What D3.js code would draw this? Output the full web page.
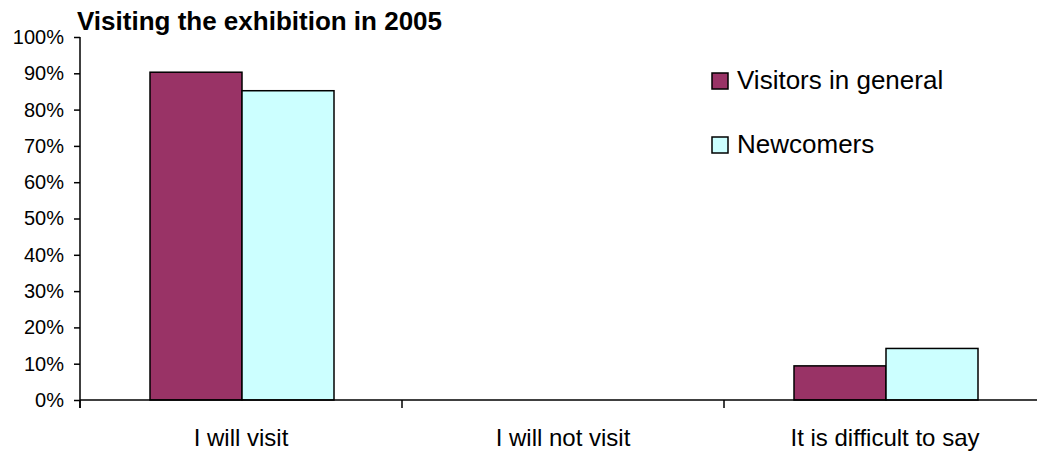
<!DOCTYPE html>
<html>
<head>
<meta charset="utf-8">
<script src="https://cdn.jsdelivr.net/npm/d3@7"></script>
<style>
  body { margin: 0; background: #fff; }
  svg text { font-family: "Liberation Sans", Arial, sans-serif; fill: #000; }
</style>
</head>
<body>
<div id="chart"></div>
<script>
// chart data
const categories = ["I will visit", "I will not visit", "It is difficult to say"];
const seriesNames = ["Visitors in general", "Newcomers"];
const visitorsGeneral = [90.3, 0, 9.4];
const newcomers = [85.2, null, 14.2];
const yTicks = [0, 10, 20, 30, 40, 50, 60, 70, 80, 90, 100];
const colors = ["#993366", "#CCFFFF"];

const width = 1037, height = 453;
const plotLeft = 80, plotTop = 37, plotBottom = 400, bandW = 322;

const svg = d3.select("#chart").append("svg")
  .attr("width", width).attr("height", height);

const y = d3.scaleLinear().domain([0, 100]).range([plotBottom, plotTop]);
const x = d3.scaleBand().domain(categories).range([plotLeft, plotLeft + bandW * categories.length]).padding(0);
const xInner = d3.scaleBand().domain(seriesNames).range([70, 70 + 184]).padding(0);

const series = [visitorsGeneral, newcomers];

// bars
seriesNames.forEach((name, si) => {
  svg.append("g").selectAll("rect")
    .data(categories.map((c, i) => ({ c: c, v: series[si][i] })).filter(d => d.v !== null))
    .enter().append("rect")
    .attr("x", d => x(d.c) + xInner(name))
    .attr("y", d => y(d.v))
    .attr("width", xInner.bandwidth())
    .attr("height", d => plotBottom - y(d.v))
    .attr("fill", colors[si])
    .attr("stroke", "#000")
    .attr("stroke-width", 1.5);
});

// y axis
const yAxis = svg.append("g")
  .attr("transform", `translate(${plotLeft},0)`)
  .call(d3.axisLeft(y).tickValues(yTicks).tickFormat(d => d + "%").tickSize(6).tickPadding(10));
yAxis.select(".domain").remove();
yAxis.selectAll("line").attr("stroke", "#000").attr("stroke-width", 1.5);
yAxis.selectAll("text").attr("font-size", 20).style("font-family", "Liberation Sans, Arial, sans-serif");
svg.append("line")
  .attr("x1", plotLeft).attr("x2", plotLeft)
  .attr("y1", y(100)).attr("y2", plotBottom + 8)
  .attr("stroke", "#000").attr("stroke-width", 1.5);

// x axis
svg.append("line")
  .attr("x1", plotLeft).attr("x2", width)
  .attr("y1", plotBottom).attr("y2", plotBottom)
  .attr("stroke", "#000").attr("stroke-width", 1.5);
svg.append("g").selectAll("line")
  .data(categories)
  .enter().append("line")
  .attr("x1", d => x(d)).attr("x2", d => x(d))
  .attr("y1", plotBottom).attr("y2", plotBottom + 8)
  .attr("stroke", "#000").attr("stroke-width", 1.5);
svg.append("g").selectAll("text")
  .data(categories)
  .enter().append("text")
  .attr("x", d => x(d) + x.bandwidth() / 2)
  .attr("y", 446)
  .attr("text-anchor", "middle")
  .attr("font-size", 24)
  .text(d => d);

// title
svg.append("text")
  .attr("x", 77).attr("y", 30)
  .attr("font-size", 26).attr("font-weight", "bold")
  .text("Visiting the exhibition in 2005");

// legend
const legend = svg.append("g").selectAll("g")
  .data(seriesNames)
  .enter().append("g")
  .attr("transform", (d, i) => `translate(712,${73 + i * 64})`);
legend.append("rect")
  .attr("width", 16).attr("height", 16)
  .attr("fill", (d, i) => colors[i])
  .attr("stroke", "#000").attr("stroke-width", 1.5);
legend.append("text")
  .attr("x", 25).attr("y", 16)
  .attr("font-size", 26)
  .text(d => d);
</script>
</body>
</html>
